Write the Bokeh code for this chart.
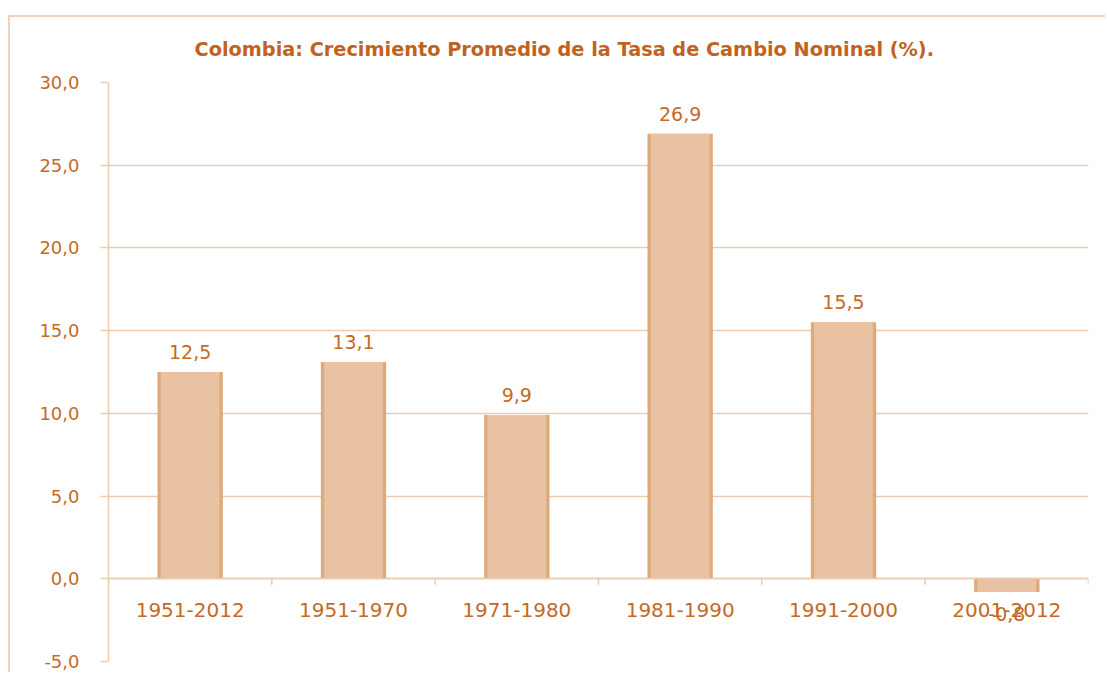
from bokeh.plotting import figure
from bokeh.models import FactorRange, Range1d, FixedTicker, ColumnDataSource
from bokeh.core.properties import value
from bokeh.embed import file_html
from bokeh.resources import INLINE

# ---- data ----
periods = ["1951-2012", "1951-1970", "1971-1980", "1981-1990", "1991-2000", "2001-2012"]
growth = [12.5, 13.1, 9.9, 26.9, 15.5, -0.8]
y_ticks = [-5, 0, 5, 10, 15, 20, 25, 30]
title_text = "Colombia: Crecimiento Promedio de la Tasa de Cambio Nominal (%)."

TEXT = "#C46A26"
TITLE = "#C2621E"
GRID = "#EDCBAF"
BORDER = "#EFD3BD"
BAR_EDGE = "#DEA97B"
BAR_FILL = "#E8C2A2"
FONT = "DejaVu Sans"

labels = [f"{v:.1f}".replace(".", ",") for v in growth]
src = ColumnDataSource(dict(
    period=periods, growth=growth, label=labels,
    yoff=[-20 if v >= 0 else 22 for v in growth],
))

# tick marks between categories (left edge of every category + right edge of last)
edges = [[c, -0.5] for c in periods] + [[periods[-1], 0.5]]
tick_src = ColumnDataSource(dict(x=edges))

p = figure(x_range=FactorRange(*periods), y_range=Range1d(-5, 30),
           width=1097, height=657, output_backend="svg", toolbar_location=None,
           min_border_left=98, min_border_right=19, min_border_top=65,
           min_border_bottom=13)

# outer chart border (Excel chart area frame)
p.styles = {"margin-left": "8px", "margin-top": "15px",
            "border-left": f"2px solid {BORDER}", "border-top": f"2px solid {BORDER}",
            "border-right": "0px none", "border-bottom": "0px none",
            "outline": "none"}

# title
p.title.text = title_text
p.title.align = "left"
p.title.vertical_align = "top"
p.title.offset = 86
p.title.text_font = FONT
p.title.text_font_style = "bold"
p.title.text_font_size = "19.3px"
p.title.text_color = TITLE
p.title.standoff = 40

p.outline_line_color = None
p.xgrid.visible = False
p.ygrid.ticker = FixedTicker(ticks=y_ticks)
p.ygrid.grid_line_color = GRID
p.ygrid.grid_line_width = 1.5

# y axis
ya = p.yaxis[0]
ya.ticker = FixedTicker(ticks=y_ticks)
ya.major_label_overrides = {t: f"{t:.1f}".replace(".", ",") for t in y_ticks}
ya.major_tick_out = 8
ya.major_tick_in = 0
ya.minor_tick_out = 0
ya.minor_tick_in = 0
ya.axis_line_color = GRID
ya.axis_line_width = 1.5
ya.major_tick_line_color = GRID
ya.major_tick_line_width = 1.5
ya.major_label_text_font = FONT
ya.major_label_text_font_size = "18px"
ya.major_label_text_color = TEXT
ya.major_label_standoff = 21

# x axis at y = 0
xa = p.xaxis[0]
xa.fixed_location = 0
xa.major_tick_out = 0
xa.major_tick_in = 0
xa.axis_line_color = GRID
xa.axis_line_width = 1.5
xa.major_label_text_font = FONT
xa.major_label_text_font_size = "20px"
xa.major_label_text_color = TEXT
xa.major_label_standoff = 24

p.segment(x0="x", y0=0, x1="x", y1=-0.36, source=tick_src,
          line_color=GRID, line_width=1.5)

# bars
p.vbar(x="period", top="growth", bottom=0, width=0.4, source=src,
       fill_color=BAR_EDGE, line_color=None)
p.vbar(x="period", top="growth", bottom=0, width=0.36, source=src,
       fill_color=BAR_FILL, line_color=None)

# data labels
p.text(x="period", y="growth", text="label", y_offset="yoff", source=src,
       text_align="center", text_baseline="alphabetic",
       text_font=value(FONT), text_font_size="19px", text_color=TEXT)

open("out.html", "w").write(file_html(p, INLINE))
